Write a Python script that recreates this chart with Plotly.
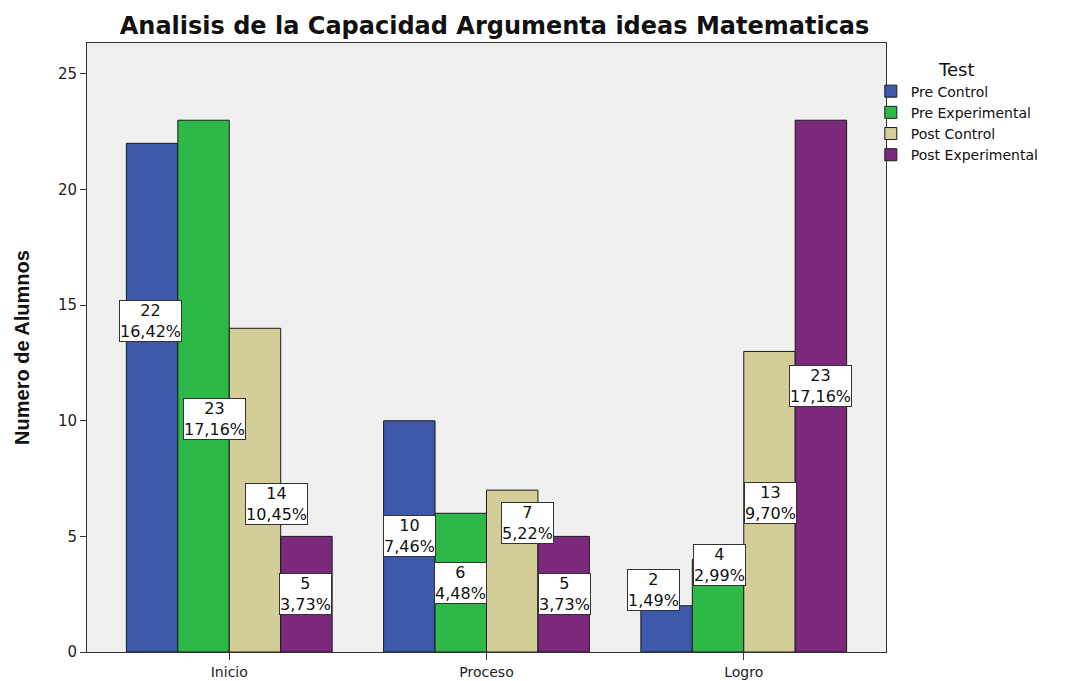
import plotly.graph_objects as go

categories = ["Inicio", "Proceso", "Logro"]
series_names = ["Pre Control", "Pre Experimental", "Post Control", "Post Experimental"]
pre_control = [22, 10, 2]
pre_experimental = [23, 6, 4]
post_control = [14, 7, 13]
post_experimental = [5, 5, 23]
pre_control_pct = ["16,42%", "7,46%", "1,49%"]
pre_experimental_pct = ["17,16%", "4,48%", "2,99%"]
post_control_pct = ["10,45%", "5,22%", "9,70%"]
post_experimental_pct = ["3,73%", "3,73%", "17,16%"]
y_ticks = [0, 5, 10, 15, 20, 25]

# label placement (data-unit heights and pixel nudges), as SPSS laid them out
label_y = [[14.32, 5.0, 2.7], [10.08, 2.98, 3.76], [6.4, 5.6, 6.44], [2.51, 2.51, 11.5]]
label_dx = [[-2, 0, -13], [11, 0, 1], [22, 15, 1], [-1, 1, 0]]

colors = ["#3E58AC", "#2EB848", "#D3CE97", "#7C287D"]
values = [pre_control, pre_experimental, post_control, post_experimental]
pcts = [pre_control_pct, pre_experimental_pct, post_control_pct, post_experimental_pct]

WIDE = "DejaVu Sans"

fig = go.Figure()
for name, vals, col in zip(series_names, values, colors):
    fig.add_trace(go.Bar(
        x=categories, y=vals, name=name,
        marker=dict(color=col, line=dict(color="#1a1a1a", width=1)),
    ))

n = len(series_names)
group_w = 0.8
bw = group_w / n
for j in range(n):
    for i in range(len(categories)):
        fig.add_annotation(
            x=i + (j - (n - 1) / 2) * bw, y=label_y[j][i], xref="x", yref="y",
            text=f"{values[j][i]}<br>{pcts[j][i]}",
            showarrow=False, xshift=label_dx[j][i],
            font=dict(family=WIDE, size=16, color="#111"),
            bgcolor="white", bordercolor="#333", borderwidth=1, borderpad=0,
        )

# page body adds an 8px offset, so the figure is sized to fill the rest of the window
fig.update_layout(
    width=1057, height=673,
    margin=dict(l=79, r=179, t=35, b=29),
    paper_bgcolor="white", plot_bgcolor="#F0F0F0",
    barmode="group", bargap=0.2, bargroupgap=0,
    title=dict(text="<b>Analisis de la Capacidad Argumenta ideas Matematicas</b>",
               xref="container", x=0.4603, xanchor="center",
               yref="container", y=0.9733, yanchor="middle",
               font=dict(family=WIDE, size=24, color="#111")),
    font=dict(family=WIDE, color="#222"),
    legend=dict(x=0.981, xanchor="left", y=0.985, yanchor="top",
                title=dict(text="Test", side="top center", font=dict(size=18)),
                font=dict(size=14, color="#111"), bgcolor="rgba(0,0,0,0)",
                traceorder="normal"),
    xaxis=dict(range=[-0.553, 2.553], showgrid=False, showline=True, linecolor="#333",
               linewidth=1, mirror=True, ticks="outside", ticklen=7, tickcolor="#333",
               automargin=False, tickfont=dict(size=14, color="#222")),
    yaxis=dict(range=[0, 26.34], tickvals=y_ticks, showgrid=False, zeroline=False,
               showline=True, linecolor="#333", linewidth=1, mirror=True,
               ticks="outside", ticklen=6, tickcolor="#333", automargin=False,
               tickfont=dict(size=15, color="#222"),
               title=dict(text="<b>Numero de Alumnos</b>", standoff=22,
                          font=dict(family="Liberation Sans, Arial", size=20, color="#111"))),
)

fig.write_html("out.html")
